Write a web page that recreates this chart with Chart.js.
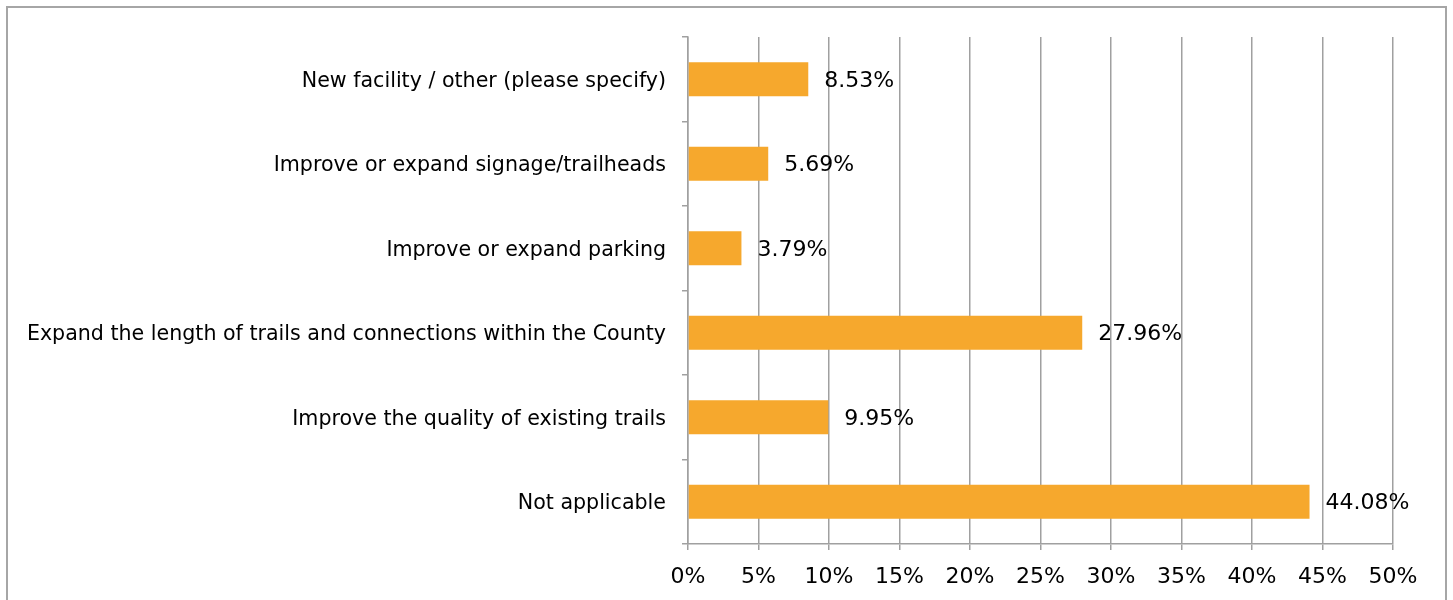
<!DOCTYPE html>
<html>
<head>
<meta charset="utf-8">
<script src="https://cdn.jsdelivr.net/npm/chart.js@4.4.0/dist/chart.umd.min.js"></script>
<style>
  html, body { margin: 0; padding: 0; background: #fff; overflow: hidden; }
  #frame { position: absolute; left: 6px; top: 6px; width: 1441px; height: 640px; border: 2px solid #a6a6a6; box-sizing: border-box; }
  #wrap { position: absolute; left: 0; top: 0; width: 1453px; height: 600px; }
</style>
</head>
<body>
<div id="frame"></div>
<div id="wrap"><canvas id="myChart" width="1453" height="600"></canvas></div>
<script>
// --- Data ---
const categories = [
    'New facility / other (please specify)',
    'Improve or expand signage/trailheads',
    'Improve or expand parking',
    'Expand the length of trails and connections within the County',
    'Improve the quality of existing trails',
    'Not applicable'
];
const shares = [8.53, 5.69, 3.79, 27.96, 9.95, 44.08];
const xTicks = [0, 5, 10, 15, 20, 25, 30, 35, 40, 45, 50];

const FONT = '"DejaVu Sans", sans-serif';

// draws the percentage next to each bar end
const valueLabels = {
    id: 'valueLabels',
    afterDatasetsDraw(chart) {
        const { ctx } = chart;
        const meta = chart.getDatasetMeta(0);
        ctx.save();
        ctx.font = '22px ' + FONT;
        ctx.fillStyle = '#000';
        ctx.textBaseline = 'middle';
        meta.data.forEach((bar, i) => {
            ctx.fillText(shares[i].toFixed(2) + '%', bar.x + 16, bar.y + 2);
        });
        ctx.restore();
    }
};

const ctx = document.getElementById('myChart').getContext('2d');
const chart = new Chart(ctx, {
    type: 'bar',
    data: {
        labels: categories,
        datasets: [{
            data: shares,
            backgroundColor: '#f6a82d',
            borderWidth: 0,
            barPercentage: 0.4,
            categoryPercentage: 1
        }]
    },
    options: {
        indexAxis: 'y',
        responsive: false,
        animation: false,
        layout: { padding: { top: 37, right: 60, left: 0, bottom: 0 } },
        plugins: { legend: { display: false }, tooltip: { enabled: false } },
        scales: {
            x: {
                min: 0,
                max: 50,
                afterBuildTicks: (scale) => { scale.ticks = xTicks.map(v => ({ value: v })); },
                afterFit: (scale) => { scale.height = 56; },
                grid: { color: '#a0a0a0', lineWidth: 1.5, tickLength: 6 },
                border: { color: '#a0a0a0', width: 1.5 },
                ticks: {
                    color: '#000',
                    padding: 14,
                    font: { family: FONT, size: 22 },
                    callback: (v) => v + '%'
                }
            },
            y: {
                afterFit: (scale) => { scale.width = 688; },
                grid: { drawOnChartArea: false, color: '#a0a0a0', lineWidth: 1.5, tickLength: 6 },
                border: { color: '#a0a0a0', width: 1.5 },
                ticks: {
                    color: '#000',
                    padding: 16,
                    labelOffset: 2,
                    font: { family: FONT, size: 20.6 }
                }
            }
        }
    },
    plugins: [valueLabels]
});
</script>
</body>
</html>
